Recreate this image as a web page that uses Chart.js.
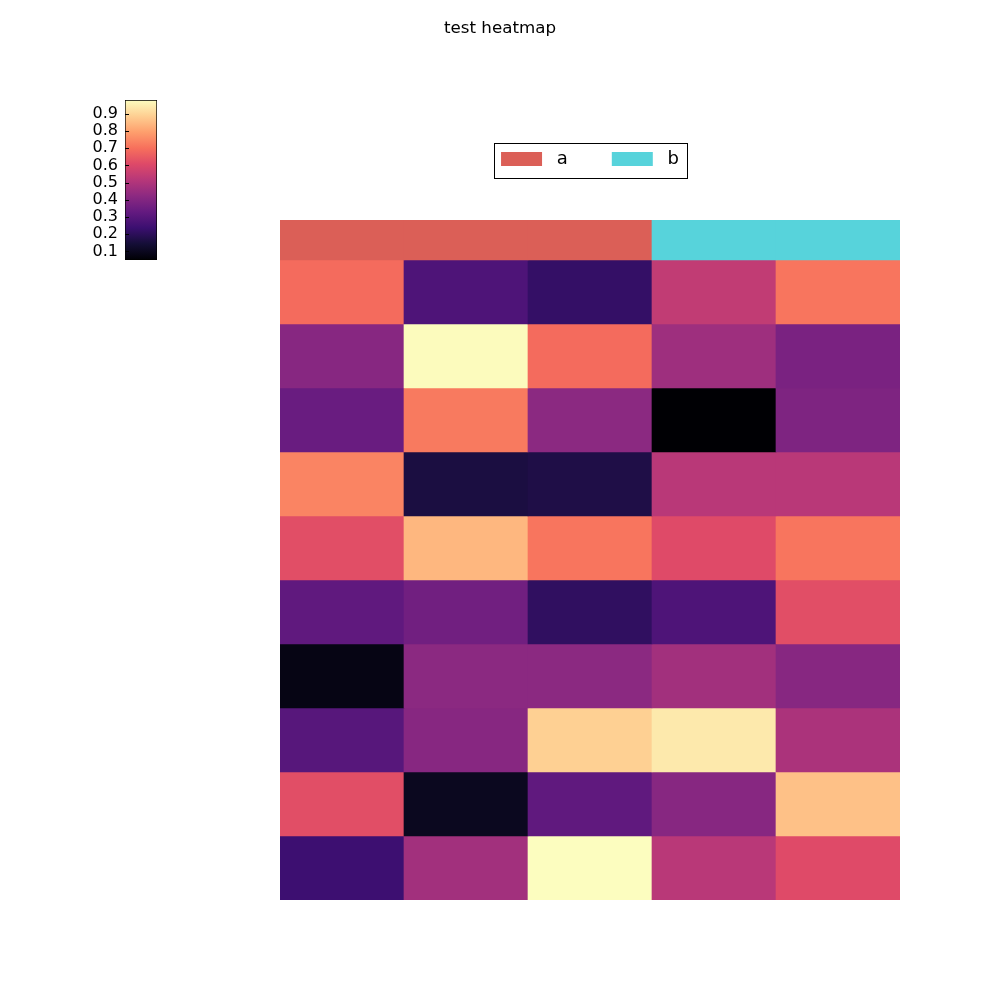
<!DOCTYPE html>
<html><head><meta charset="utf-8">
<script src="https://cdn.jsdelivr.net/npm/chart.js@4/dist/chart.umd.min.js"></script>
<style>
html,body{margin:0;padding:0;background:#fff;}
#wrap{position:relative;width:1000px;height:1000px;}
canvas{position:absolute;left:0;top:0;}
</style></head><body>
<div id="wrap">
<canvas id="main" width="1000" height="1000"></canvas>
<canvas id="cbar" width="200" height="300"></canvas>
</div>
<script>
const columns = ['c0','c1','c2','c3','c4'];
const rowLabels = ['r0','r1','r2','r3','r4','r5','r6','r7','r8','r9'];
const colGroups = ['a','a','a','b','b'];
const groupNames = ['a','b'];
const groupColors = ['#db5f57','#57d3db'];
const heatValues = [
  [0.69,0.28,0.22,0.54,0.71],
  [0.41,0.975,0.69,0.46,0.38],
  [0.34,0.72,0.42,0.05,0.39],
  [0.74,0.16,0.17,0.52,0.52],
  [0.62,0.84,0.71,0.61,0.71],
  [0.32,0.36,0.21,0.28,0.62],
  [0.08,0.42,0.42,0.47,0.41],
  [0.30,0.41,0.89,0.94,0.49],
  [0.62,0.10,0.32,0.41,0.86],
  [0.24,0.47,0.98,0.52,0.61]
];
const colorbarTicks = [0.1,0.2,0.3,0.4,0.5,0.6,0.7,0.8,0.9];
const chartTitle = 'test heatmap';

const magmaStops = ['#000004','#140e36','#3b0f70','#641a80','#8c2981','#b73779','#de4968','#f7705c','#fe9f6d','#fecf92','#fcfdbf'];
function hexRgb(h){return [parseInt(h.slice(1,3),16),parseInt(h.slice(3,5),16),parseInt(h.slice(5,7),16)];}
function magma(t){
  t=Math.max(0,Math.min(1,t));
  const n=magmaStops.length-1; const p=t*n; const i=Math.min(n-1,Math.floor(p)); const f=p-i;
  const a=hexRgb(magmaStops[i]), b=hexRgb(magmaStops[i+1]);
  return 'rgb('+a.map((v,k)=>Math.round(v+(b[k]-v)*f)).join(',')+')';
}
const allVals = heatValues.flat();
const vmin = Math.min(...allVals), vmax = Math.max(...allVals);

const FONT = 'DejaVu Sans';
const datasets = [];
datasets.push({
  label:'groups',
  data: columns.map(()=>[-0.625,0]),
  backgroundColor: colGroups.map(g=>groupColors[groupNames.indexOf(g)])
});
heatValues.forEach((row,r)=>{
  datasets.push({
    label: rowLabels[r],
    data: columns.map(()=>[r,r+1]),
    backgroundColor: row.map(v=>magma((v-vmin)/(vmax-vmin)))
  });
});

const legendBorder = {
  id:'legendBorder',
  afterDraw(chart){
    const hb = chart.legend && chart.legend.legendHitBoxes;
    if(!hb || !hb.length) return;
    const last = hb[hb.length-1];
    const l = Math.round(hb[0].left-7), r = Math.round(last.left+last.width+8);
    const t = Math.round(hb[0].top-7), b = Math.round(hb[0].top+hb[0].height+10);
    const ctx = chart.ctx; ctx.save(); ctx.strokeStyle='#000'; ctx.lineWidth=1;
    ctx.strokeRect(l+0.5,t+0.5,r-l,b-t); ctx.restore();
  }
};

const hiddenAxis = (w, pos) => ({
  type:'linear', position:pos, display:true,
  grid:{display:false,drawTicks:false}, border:{display:false}, ticks:{display:false},
  afterFit(s){ s.width = w; }
});

const yMain = hiddenAxis(280,'left');
yMain.min = -0.625; yMain.max = rowLabels.length; yMain.reverse = true;

new Chart(document.getElementById('main'), {
  type:'bar',
  data:{labels:columns, datasets},
  options:{
    responsive:false, animation:false,
    layout:{padding:{left:0,right:0,bottom:100,top:0}},
    datasets:{bar:{grouped:false,barPercentage:1,categoryPercentage:1,borderWidth:0}},
    scales:{
      x:{position:'top', grid:{display:false,drawTicks:false}, border:{display:false}, ticks:{display:false}, afterFit(s){s.height=42;}},
      y: yMain,
      yRight: hiddenAxis(100,'right')
    },
    plugins:{
      title:{display:true,text:chartTitle,color:'#000',font:{family:FONT,size:16.7,weight:'normal'},padding:{top:19,bottom:67}},
      legend:{display:true,position:'top',fullSize:false,align:'center',onClick:null,
        labels:{boxWidth:41,boxHeight:14,padding:44,color:'#000',font:{family:FONT,size:18},
          generateLabels:()=>groupNames.map((g,i)=>({text:' '+g,fillStyle:groupColors[i],strokeStyle:groupColors[i],lineWidth:0,hidden:false}))}},
      tooltip:{enabled:false}
    }
  },
  plugins:[legendBorder]
});

const cbTicks = {
  id:'cbTicks',
  afterDatasetsDraw(chart){
    const y = chart.scales.y, a = chart.chartArea, ctx = chart.ctx;
    ctx.save(); ctx.strokeStyle='#000'; ctx.lineWidth=1; ctx.beginPath();
    colorbarTicks.forEach(v=>{const p=Math.round(y.getPixelForValue(v))+0.5; ctx.moveTo(a.left,p); ctx.lineTo(a.left+4,p);});
    ctx.stroke(); ctx.restore();
  }
};

new Chart(document.getElementById('cbar'), {
  type:'bar',
  data:{labels:['cb'], datasets:[{
    data:[[vmin,vmax]],
    backgroundColor:(c)=>{
      const a=c.chart.chartArea; if(!a) return '#000';
      const g=c.chart.ctx.createLinearGradient(0,a.bottom,0,a.top);
      magmaStops.forEach((s,i)=>g.addColorStop(i/(magmaStops.length-1),s));
      return g;
    },
    borderColor:'#000', borderWidth:1, borderSkipped:false, barPercentage:1, categoryPercentage:1
  }]},
  options:{
    responsive:false, animation:false,
    layout:{padding:{top:100,bottom:40,right:43,left:0}},
    scales:{
      x:{display:false},
      y:{min:vmin,max:vmax,grid:{display:false,drawTicks:false},border:{display:false},
        afterFit(s){s.width=125;},
        afterBuildTicks(s){s.ticks=colorbarTicks.map(v=>({value:v}));},
        ticks:{padding:7,color:'#000',font:{family:FONT,size:16},autoSkip:false,callback:v=>Number(v).toFixed(1)}}
    },
    plugins:{legend:{display:false},tooltip:{enabled:false}}
  },
  plugins:[cbTicks]
});
</script>
</body></html>
